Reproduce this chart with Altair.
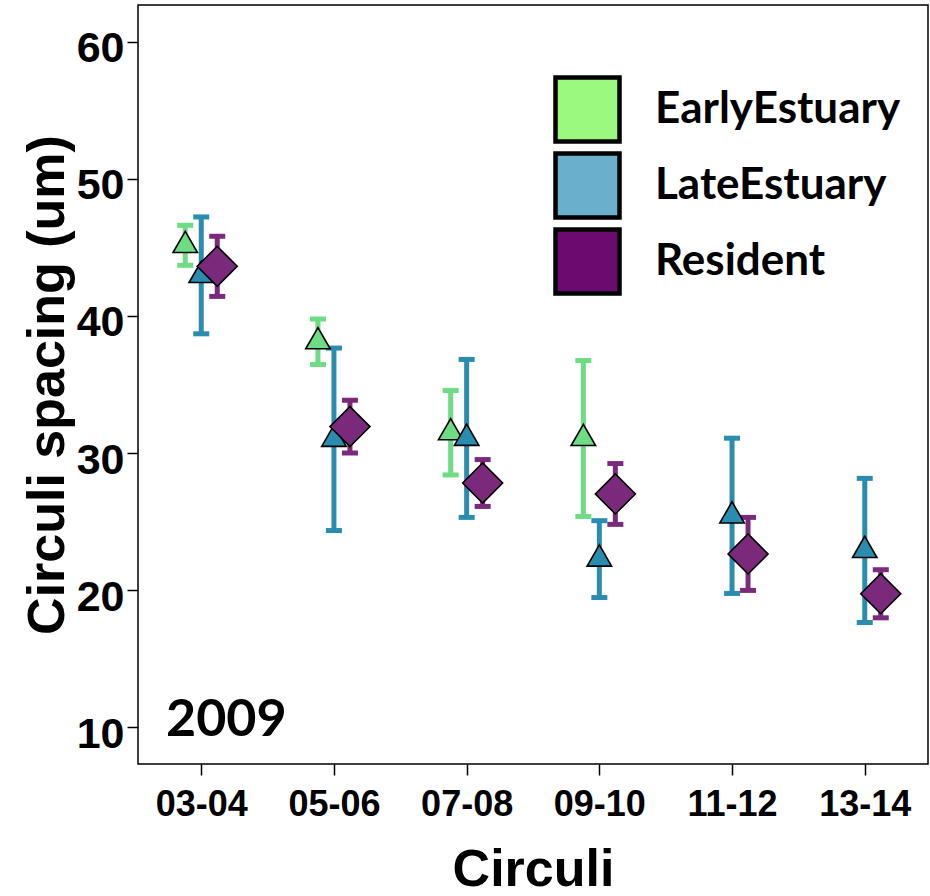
import altair as alt
import pandas as pd

categories = ["03-04", "05-06", "07-08", "09-10", "11-12", "13-14"]
groups = ["EarlyEstuary", "LateEstuary", "Resident"]

early_mean = [45.15, 38.12, 31.48, 31.06]
early_lo = [43.70, 36.46, 28.40, 25.37]
early_hi = [46.62, 39.78, 34.56, 36.75]

late_mean = [42.96, 31.00, 31.07, 22.26, 25.41, 22.89]
late_lo = [38.70, 24.34, 25.30, 19.45, 19.75, 17.63]
late_hi = [47.23, 37.66, 36.83, 25.06, 31.08, 28.15]

res_mean = [43.63, 31.93, 27.81, 27.01, 22.63, 19.73]
res_lo = [41.43, 30.00, 26.10, 24.79, 19.97, 17.97]
res_hi = [45.82, 33.85, 29.52, 29.23, 25.30, 21.48]

mark_colors = ["#6EDC82", "#2A8DB0", "#7B2A7B"]
legend_colors = ["#9AF97E", "#6AAFCB", "#6B0A6F"]

rows = []
for g, m, lo, hi in [
    ("EarlyEstuary", early_mean, early_lo, early_hi),
    ("LateEstuary", late_mean, late_lo, late_hi),
    ("Resident", res_mean, res_lo, res_hi),
]:
    for c, mv, lv, hv in zip(categories, m, lo, hi):
        rows.append({"circuli": c, "group": g, "mean": mv, "lo": lv, "hi": hv})
df = pd.DataFrame(rows)
legend_df = pd.DataFrame({"series": groups})

AX_FONT = "Liberation Sans"
x_enc = alt.X(
    "circuli:N",
    sort=categories,
    scale=alt.Scale(type="point", domain=categories, padding=0.4766),
    axis=alt.Axis(
        title="Circuli", labelAngle=0, tickSize=11, tickWidth=1.5, tickColor="black",
        domain=False, grid=False, labelFont=AX_FONT, labelFontSize=36, labelFontWeight="bold",
        labelColor="black", labelPadding=12, titleFont=AX_FONT, titleFontSize=52,
        titleFontWeight="bold", titleColor="black", titlePadding=22,
    ),
)
y_scale = alt.Scale(domain=[7.3, 62.7], nice=False, zero=False)
y_axis = alt.Axis(
    title="Circuli spacing (um)", values=[10, 20, 30, 40, 50, 60], tickSize=11, tickWidth=1.5,
    tickColor="black", domain=False, grid=False, labelFont=AX_FONT, labelFontSize=43,
    labelFontWeight="bold", labelColor="black", labelPadding=3, labelOffset=7,
    titleFont=AX_FONT, titleFontSize=52, titleFontWeight="bold", titleColor="black",
    titlePadding=13, titleBaseline="alphabetic",
)
# data-driven domain (alphabetical = same order as groups)
color_enc = alt.Color("group:N", scale=alt.Scale(range=mark_colors), legend=None)

offsets = {"EarlyEstuary": -16, "LateEstuary": 0, "Resident": 16}
tri = "M0,-1.155L-1,0.577L1,0.577Z"

layers = []
for g in groups:
    base = alt.Chart(df).transform_filter(alt.datum.group == g)
    off = offsets[g]
    layers.append(base.mark_rule(strokeWidth=5, xOffset=off).encode(
        x=x_enc, y=alt.Y("lo:Q", scale=y_scale, axis=y_axis), y2="hi:Q", color=color_enc))
    layers.append(base.mark_tick(size=16, thickness=5, xOffset=off, opacity=1).encode(
        x=x_enc, y=alt.Y("lo:Q", scale=y_scale, axis=y_axis), color=color_enc))
    layers.append(base.mark_tick(size=16, thickness=5, xOffset=off, opacity=1).encode(
        x=x_enc, y=alt.Y("hi:Q", scale=y_scale, axis=y_axis), color=color_enc))
for g in groups:
    base = alt.Chart(df).transform_filter(alt.datum.group == g)
    off = offsets[g]
    if g == "Resident":
        mk = base.mark_point(shape="diamond", size=1600, filled=True, opacity=1,
                             stroke="black", strokeWidth=1.6, xOffset=off)
    else:
        mk = base.mark_point(shape=tri, size=600, filled=True, opacity=1,
                             stroke="black", strokeWidth=1.6, xOffset=off)
    layers.append(mk.encode(x=x_enc, y=alt.Y("mean:Q", scale=y_scale, axis=y_axis),
                            color=color_enc))

# layer that only feeds the legend (its squares sit outside the clipped view)
legend_layer = alt.Chart(legend_df).mark_square(clip=True, size=4096).encode(
    x=alt.value(-2000), y=alt.value(-2000),
    fill=alt.Fill(
        "series:N",
        scale=alt.Scale(domain=groups, range=legend_colors),
        legend=alt.Legend(
            title=None, orient="none", legendX=415, legendY=70, direction="vertical",
            symbolType="square", symbolSize=4096, symbolStrokeWidth=4.5,
            symbolStrokeColor="black", symbolOpacity=1, rowPadding=-18, labelOffset=33,
            padding=0, labelLimit=600, labelFont="Lato", labelFontSize=44,
            labelFontWeight="bold", labelColor="black",
        ),
    ),
)

year_text = alt.Chart(pd.DataFrame({"t": ["2009"]})).mark_text(
    font="Lato", fontSize=52, fontWeight="bold", align="left", baseline="alphabetic", color="black"
).encode(text="t:N", x=alt.value(28), y=alt.value(731))

chart = alt.layer(*layers, legend_layer, year_text).properties(
    width=790, height=759,
    autosize=alt.AutoSizeParams(type="none"),
    padding={"left": 138, "top": 5, "right": 2, "bottom": 132},
).configure(
    background="white",
    view=alt.ViewConfig(stroke="black", strokeWidth=1.5),
)

chart.save("out.html", embed_options={"renderer": "svg", "actions": False})
